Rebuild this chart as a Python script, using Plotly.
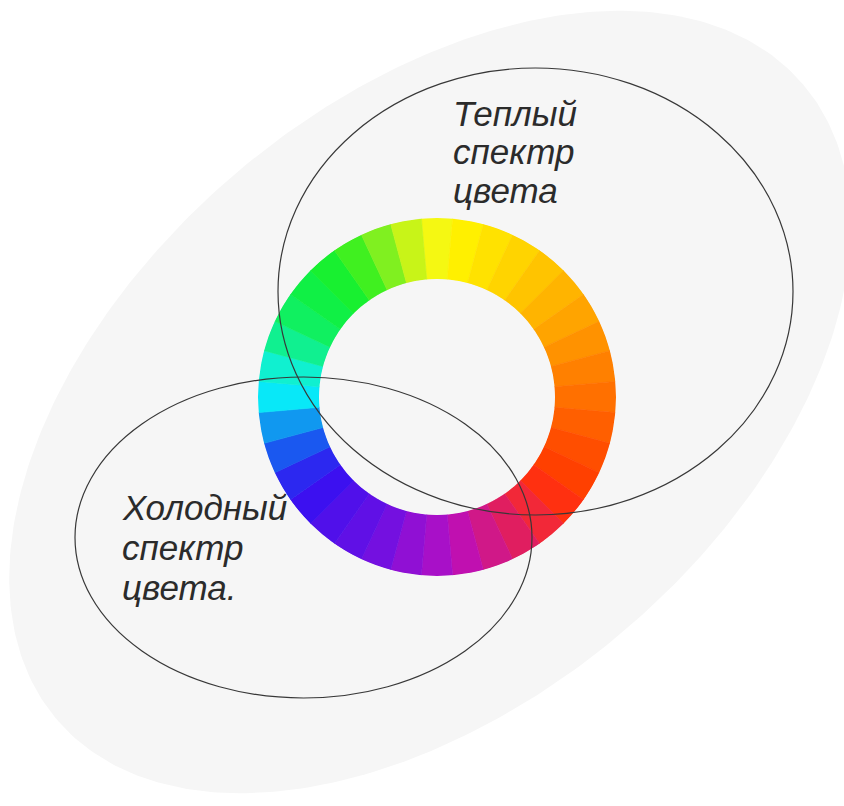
import numpy as np
import plotly.graph_objects as go

# ---- data ----
# colour wheel: centre angle of each segment (deg, clockwise from 12 o'clock) and its colour
wheel_theta = [0, 10, 20, 30, 40, 50, 60, 70, 80, 90, 100, 110, 120, 130, 140, 150, 160, 170,
               180, 190, 200, 210, 220, 230, 240, 250, 260, 270, 280, 290, 300, 310, 320, 330, 340, 350]
wheel_colors = ["#f5f812", "#fff000", "#ffe200", "#ffd400", "#ffc400", "#ffb400", "#ffa400",
                "#ff9200", "#ff8000", "#ff7000", "#ff5f00", "#ff4e00", "#ff4000", "#ff3010",
                "#f22838", "#e01e60", "#d01888", "#c010b0", "#a810c8", "#9010d4", "#7410e0",
                "#6010e6", "#5010ea", "#3c10f0", "#2c28f0", "#1a58f0", "#1098f0", "#08e8f8",
                "#10f0d0", "#10f090", "#10f060", "#10f045", "#18f030", "#40f020", "#80f020",
                "#c8f418"]
segment_width = 10

warm_lines = ["Теплый", "спектр", "цвета"]
cold_lines = ["Холодный", "спектр", "цвета."]

W, H = 844, 806

fig = go.Figure()

# light grey tilted background ellipse
cx, cy, A, B, ang = 430, 402, 490, 300, np.deg2rad(40.4)
t = np.linspace(0, 2 * np.pi, 400)
d1 = np.array([np.cos(ang), -np.sin(ang)])
d2 = np.array([np.sin(ang), np.cos(ang)])
ex = cx + A * np.cos(t) * d1[0] + B * np.sin(t) * d2[0]
ey = cy + A * np.cos(t) * d1[1] + B * np.sin(t) * d2[1]
fig.add_trace(go.Scatter(x=ex, y=ey, mode="lines", fill="toself", fillcolor="#f6f6f6",
                         line=dict(width=0, color="#f6f6f6"), hoverinfo="skip", showlegend=False))

# colour wheel
fig.add_trace(go.Barpolar(theta=wheel_theta, r=[1] * len(wheel_theta), width=[segment_width] * len(wheel_theta),
                          marker=dict(color=wheel_colors, line=dict(color=wheel_colors, width=0.6)),
                          hoverinfo="skip", showlegend=False))

wc_x, wc_y, r_out, r_in = 437, 397, 179, 118
fig.update_layout(
    width=W, height=H, margin=dict(l=0, r=0, t=0, b=0),
    paper_bgcolor="white", plot_bgcolor="white",
    xaxis=dict(range=[0, W], visible=False, domain=[0, 1], fixedrange=True),
    yaxis=dict(range=[H, 0], visible=False, domain=[0, 1], fixedrange=True),
    polar=dict(
        domain=dict(x=[(wc_x - r_out) / W, (wc_x + r_out) / W],
                    y=[(H - wc_y - r_out) / H, (H - wc_y + r_out) / H]),
        hole=r_in / r_out, bgcolor="rgba(0,0,0,0)", bargap=0,
        radialaxis=dict(range=[0, 1], visible=False),
        angularaxis=dict(rotation=90, direction="clockwise", visible=False),
    ),
    showlegend=False,
)

# the two thin black ellipses
for (x0, y0, x1, y1) in [(278, 68, 793, 515), (75, 377, 532, 698)]:
    fig.add_shape(type="circle", xref="x", yref="y", x0=x0, y0=y0, x1=x1, y1=y1,
                  line=dict(color="#383838", width=1.2), layer="above")

font = dict(family="Liberation Sans, Arial, sans-serif", size=35, color="#2b2b2b")
for i, s in enumerate(warm_lines):
    fig.add_annotation(x=451, y=113 + i * 38.5, xref="x", yref="y", text="<i>" + s + "</i>",
                       showarrow=False, xanchor="left", yanchor="middle", font=font)
for i, s in enumerate(cold_lines):
    fig.add_annotation(x=120, y=507 + i * 40, xref="x", yref="y", text="<i>" + s + "</i>",
                       showarrow=False, xanchor="left", yanchor="middle", font=font)

fig.write_html("out.html", config={"displayModeBar": False})

# remove the default 8px page margin so the figure sits at the window's corner
with open("out.html", encoding="utf-8") as f:
    html = f.read()
html = html.replace("<head>", "<head><style>html,body{margin:0;padding:0;overflow:hidden;}</style>", 1)
with open("out.html", "w", encoding="utf-8") as f:
    f.write(html)
